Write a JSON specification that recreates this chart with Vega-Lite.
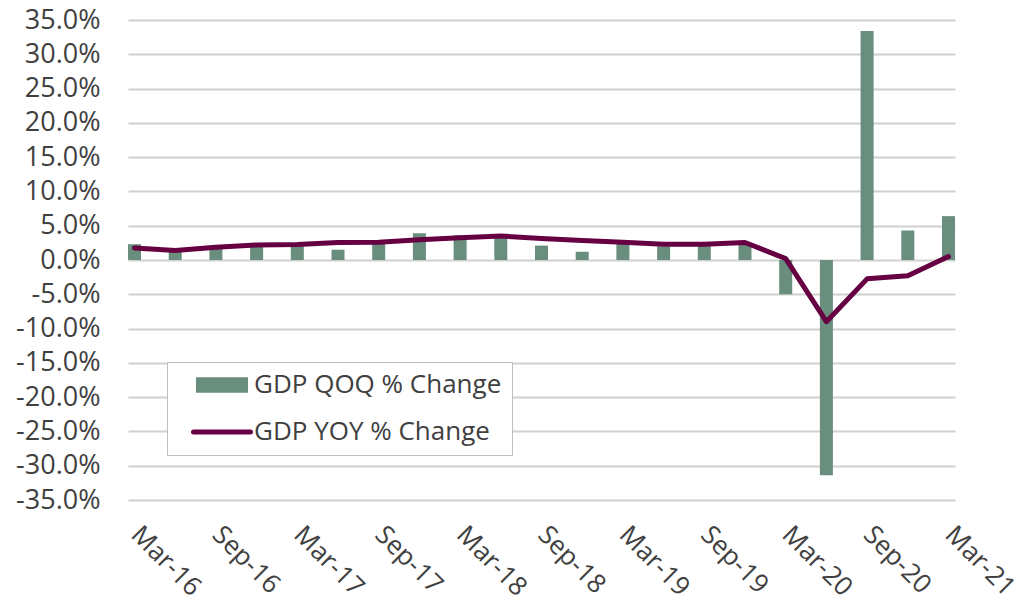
{
  "$schema": "https://vega.github.io/schema/vega-lite/v6.json",
  "width": 827,
  "height": 480,
  "autosize": {"type": "none"},
  "padding": {"left": 128, "top": 20, "right": 77, "bottom": 103},
  "background": "white",
  "config": {
    "font": "Open Sans",
    "view": {"stroke": null},
    "axis": {"labelOverlap": false},
    "axisY": {"labelOverlap": false}
  },
  "data": {
    "values": [
      {"q": "Mar-16", "qoq": 2.3, "yoy": 1.75},
      {"q": "Jun-16", "qoq": 1.3, "yoy": 1.4},
      {"q": "Sep-16", "qoq": 2.0, "yoy": 1.85},
      {"q": "Dec-16", "qoq": 2.4, "yoy": 2.2},
      {"q": "Mar-17", "qoq": 2.4, "yoy": 2.25},
      {"q": "Jun-17", "qoq": 1.5, "yoy": 2.55},
      {"q": "Sep-17", "qoq": 2.5, "yoy": 2.6},
      {"q": "Dec-17", "qoq": 3.9, "yoy": 2.95},
      {"q": "Mar-18", "qoq": 3.6, "yoy": 3.25},
      {"q": "Jun-18", "qoq": 3.3, "yoy": 3.5},
      {"q": "Sep-18", "qoq": 2.1, "yoy": 3.15},
      {"q": "Dec-18", "qoq": 1.2, "yoy": 2.85},
      {"q": "Mar-19", "qoq": 2.4, "yoy": 2.6},
      {"q": "Jun-19", "qoq": 2.0, "yoy": 2.3},
      {"q": "Sep-19", "qoq": 2.1, "yoy": 2.3},
      {"q": "Dec-19", "qoq": 2.4, "yoy": 2.55},
      {"q": "Mar-20", "qoq": -5.0, "yoy": 0.2},
      {"q": "Jun-20", "qoq": -31.4, "yoy": -9.0},
      {"q": "Sep-20", "qoq": 33.4, "yoy": -2.75},
      {"q": "Dec-20", "qoq": 4.3, "yoy": -2.3},
      {"q": "Mar-21", "qoq": 6.4, "yoy": 0.5}
    ]
  },
  "encoding": {
    "x": {
      "field": "q",
      "type": "ordinal",
      "sort": null,
      "scale": {"paddingInner": 0.68, "paddingOuter": 0},
      "axis": {
        "title": null,
        "values": ["Mar-16", "Sep-16", "Mar-17", "Sep-17", "Mar-18", "Sep-18", "Mar-19", "Sep-19", "Mar-20", "Sep-20", "Mar-21"],
        "labelAngle": 45,
        "labelAlign": "left",
        "labelBaseline": "top",
        "labelFontSize": 26,
        "labelColor": "#404040",
        "labelPadding": 21,
        "labelOffset": 10,
        "ticks": false,
        "domain": false,
        "grid": false,
        "labelOverlap": false,
        "labelBound": false,
        "labelFlush": false
      }
    }
  },
  "layer": [
    {
      "mark": {"type": "bar"},
      "encoding": {
        "y": {
          "field": "qoq",
          "type": "quantitative",
          "scale": {"domain": [-35, 35], "nice": false},
          "axis": {
            "title": null,
            "values": [-35, -30, -25, -20, -15, -10, -5, 0, 5, 10, 15, 20, 25, 30, 35],
            "labelExpr": "(datum.value < 0 ? '-' : '') + format(abs(datum.value), '.1f') + '%'",
            "labelFontSize": 27,
            "labelColor": "#404040",
            "labelPadding": 28,
            "labelOverlap": false,
            "labelFlush": false,
            "ticks": false,
            "domain": false,
            "grid": true,
            "gridColor": "#d0d0d0",
            "gridWidth": 2
          }
        },
        "color": {
          "datum": "GDP QOQ % Change",
          "type": "nominal",
          "scale": {"domain": ["GDP QOQ % Change", "GDP YOY % Change"], "range": ["#6a8e7e", "#660042"]},
          "legend": {
            "orient": "none",
            "legendX": 39,
            "legendY": 342,
            "title": null,
            "padding": 10,
            "strokeColor": "#bfbfbf",
            "fillColor": "white",
            "labelFontSize": 26,
            "labelColor": "#404040",
            "labelLimit": 500,
            "labelOffset": 19,
            "rowPadding": 21,
            "symbolOffset": 32,
            "symbolSize": 3249,
            "encode": {
              "symbols": {
                "update": {
                  "shape": {"signal": "datum.value === 'GDP QOQ % Change' ? 'M-1,-0.3H1V0.3H-1Z' : 'M-1,0H1'"},
                  "size": {"signal": "datum.value === 'GDP QOQ % Change' ? 2704 : 3249"},
                  "fill": {"signal": "datum.value === 'GDP QOQ % Change' ? '#6a8e7e' : 'transparent'"},
                  "stroke": {"signal": "datum.value === 'GDP QOQ % Change' ? 'transparent' : '#660042'"},
                  "strokeWidth": {"signal": "datum.value === 'GDP QOQ % Change' ? 0 : 5"},
                  "strokeCap": {"value": "round"},
                  "opacity": {"value": 1}
                }
              }
            }
          }
        }
      }
    },
    {
      "mark": {"type": "line", "strokeWidth": 5, "strokeJoin": "round", "strokeCap": "round"},
      "encoding": {
        "y": {
          "field": "yoy",
          "type": "quantitative",
          "axis": {
            "title": null,
            "values": [-35, -30, -25, -20, -15, -10, -5, 0, 5, 10, 15, 20, 25, 30, 35],
            "labelExpr": "(datum.value < 0 ? '-' : '') + format(abs(datum.value), '.1f') + '%'",
            "labelFontSize": 27,
            "labelColor": "#404040",
            "labelPadding": 28,
            "labelOverlap": false,
            "labelFlush": false,
            "ticks": false,
            "domain": false,
            "grid": true,
            "gridColor": "#d0d0d0",
            "gridWidth": 2
          }
        },
        "color": {"datum": "GDP YOY % Change", "type": "nominal"}
      }
    }
  ]
}
